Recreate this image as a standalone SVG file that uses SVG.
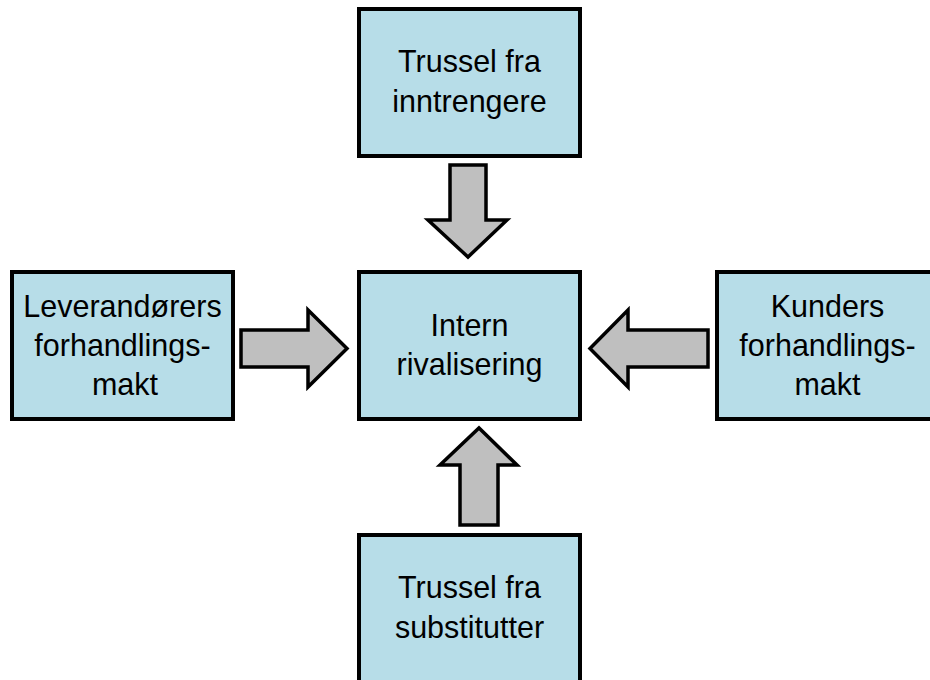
<svg xmlns="http://www.w3.org/2000/svg" width="930" height="680" viewBox="0 0 930 680">
<style>
.box{fill:#B7DDE8;stroke:#000;stroke-width:4}
.arrow{fill:#BFBFBF;stroke:#000;stroke-width:3.5;stroke-linejoin:miter}
text{font-family:"Liberation Sans",Arial,sans-serif;font-size:30.5px;fill:#000;text-anchor:middle}
</style>
<rect width="930" height="680" fill="#fff"/>
<g id="connectors">
<path id="arrow-top" class="arrow" d="M450,165 L486,165 L486,220 L507,220 L468,257 L428,220 L450,220 Z"/>
<path id="arrow-left" class="arrow" d="M241,330 L308,330 L308,310 L347,348.5 L308,387 L308,367 L241,367 Z"/>
<path id="arrow-right" class="arrow" d="M708,330 L628,330 L628,310 L590,348.5 L628,387 L628,367 L708,367 Z"/>
<path id="arrow-bottom" class="arrow" d="M460,525 L498,525 L498,465 L517,465 L479,428 L440,465 L460,465 Z"/>
</g>
<g id="node-top">
<rect class="box" x="359" y="9" width="221" height="147"/>
<text x="469.5" y="72">Trussel fra</text>
<text x="469.5" y="112">inntrengere</text>
</g>
<g id="node-center">
<rect class="box" x="359" y="272" width="221" height="147"/>
<text x="469.5" y="336">Intern</text>
<text x="469.5" y="375">rivalisering</text>
</g>
<g id="node-left">
<rect class="box" x="12" y="272" width="221" height="147"/>
<text x="122.5" y="317">Leverandørers</text>
<text x="122.5" y="356">forhandlings-</text>
<text x="125" y="395">makt</text>
</g>
<g id="node-right">
<rect class="box" x="717" y="272" width="221" height="147"/>
<text x="827.5" y="317">Kunders</text>
<text x="827.5" y="356">forhandlings-</text>
<text x="827.5" y="395">makt</text>
</g>
<g id="node-bottom">
<rect class="box" x="359" y="535" width="221" height="147"/>
<text x="469.5" y="598">Trussel fra</text>
<text x="469.5" y="638">substitutter</text>
</g>
</svg>
